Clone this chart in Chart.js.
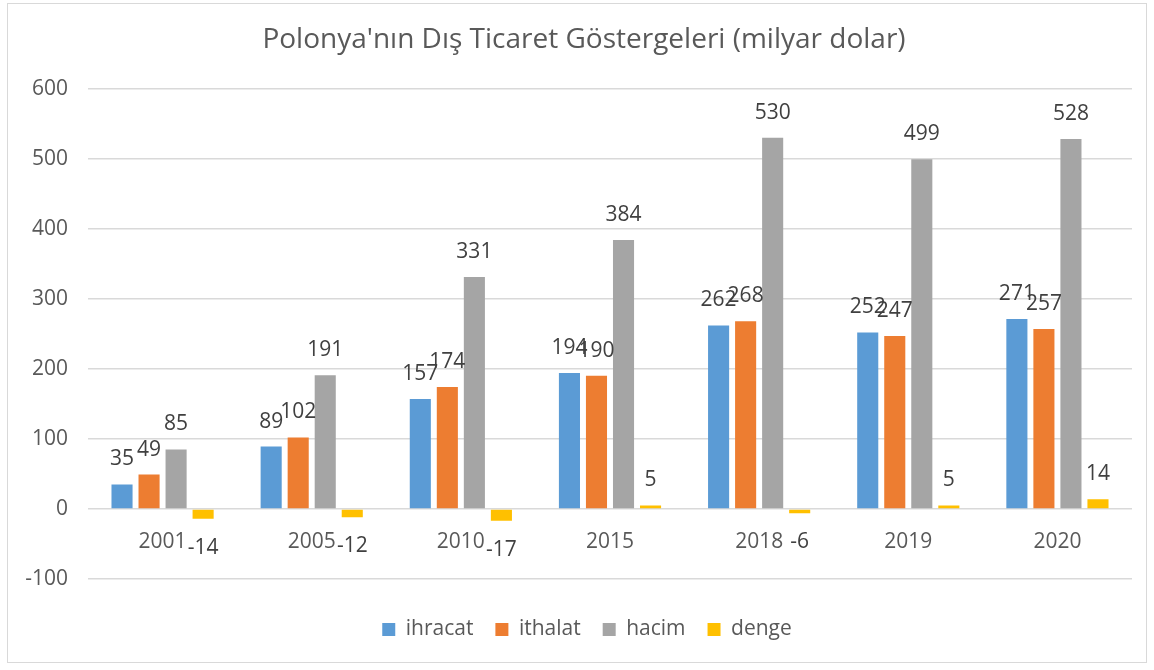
<!DOCTYPE html>
<html>
<head>
<meta charset="utf-8">
<script src="https://cdn.jsdelivr.net/npm/chart.js@4"></script>
<style>
  body { margin: 0; background: #fff; }
  #box {
    position: absolute; left: 7px; top: 3px;
    width: 1138px; height: 658px;
    border: 1px solid #d9d9d9; background: #fff;
  }
</style>
</head>
<body>
<div id="box"><canvas id="chartCanvas" width="1138" height="658"></canvas></div>
<script>
// chart data
const years = ['2001', '2005', '2010', '2015', '2018', '2019', '2020'];
const ihracat = [35, 89, 157, 194, 262, 252, 271];
const ithalat = [49, 102, 174, 190, 268, 247, 257];
const hacim = [85, 191, 331, 384, 530, 499, 528];
const denge = [-14, -12, -17, 5, -6, 5, 14];
const yTicks = [-100, 0, 100, 200, 300, 400, 500, 600];

const FONT = '"Open Sans", "Noto Sans", sans-serif';

// value labels above (or below, for negatives) each bar
const valueLabels = {
    id: 'valueLabels',
    afterDatasetsDraw(chart) {
        const ctx = chart.ctx;
        ctx.save();
        ctx.font = '21px ' + FONT;
        ctx.fillStyle = '#404040';
        ctx.textAlign = 'center';
        ctx.textBaseline = 'middle';
        chart.data.datasets.forEach((ds, i) => {
            chart.getDatasetMeta(i).data.forEach((bar, j) => {
                const v = ds.data[j];
                const y = v >= 0 ? bar.y - 25 : bar.y + 29;
                ctx.fillText(String(v), bar.x, y);
            });
        });
        ctx.restore();
    }
};

// nudge the title and legend a little to the right, like the original
const blockShift = {
    id: 'blockShift',
    afterLayout(chart) {
        chart.legend.left += 17;
        chart.legend.right += 17;
        chart.titleBlock.left += 14;
        chart.titleBlock.right += 14;
    }
};

function makeSet(label, data, color) {
    return {
        label: label,
        data: data,
        backgroundColor: color,
        borderWidth: 0,
        categoryPercentage: 0.725,
        barPercentage: 0.78
    };
}

const ctx = document.getElementById('chartCanvas').getContext('2d');
new Chart(ctx, {
    type: 'bar',
    data: {
        labels: years,
        datasets: [
            makeSet('ihracat', ihracat, '#5B9BD5'),
            makeSet('ithalat', ithalat, '#ED7D31'),
            makeSet('hacim', hacim, '#A5A5A5'),
            makeSet('denge', denge, '#FFC000')
        ]
    },
    plugins: [valueLabels, blockShift],
    options: {
        responsive: false,
        animation: false,
        events: [],
        layout: { padding: { left: 0, right: 14, top: 0, bottom: 12 } },
        plugins: {
            title: {
                display: true,
                text: "Polonya'nın Dış Ticaret Göstergeleri (milyar dolar)",
                color: '#595959',
                font: { family: FONT, size: 28, weight: 'normal' },
                padding: { top: 19, bottom: 32 }
            },
            legend: {
                position: 'bottom',
                labels: {
                    color: '#595959',
                    font: { family: FONT, size: 21 },
                    boxWidth: 13,
                    boxHeight: 13,
                    padding: 22
                }
            },
            tooltip: { enabled: false }
        },
        scales: {
            x: {
                position: { y: 0 },
                grid: { display: false, drawTicks: false },
                border: { display: false },
                ticks: {
                    color: '#595959',
                    font: { family: FONT, size: 21 },
                    padding: 20
                }
            },
            // empty spacer below the plot so the legend sits lower
            x2: {
                type: 'category',
                position: 'bottom',
                grid: { display: false, drawTicks: false },
                border: { display: false },
                ticks: { display: false },
                afterFit(scale) { scale.height = 18; }
            },
            y: {
                min: -100,
                max: 600,
                afterFit(scale) { scale.width = 80; },
                afterBuildTicks(scale) {
                    scale.ticks = yTicks.map(v => ({ value: v }));
                },
                grid: { color: '#d9d9d9', lineWidth: 1.5, drawTicks: false },
                border: { display: false },
                ticks: {
                    color: '#595959',
                    font: { family: FONT, size: 21 },
                    padding: 20
                }
            }
        }
    }
});
</script>
</body>
</html>
